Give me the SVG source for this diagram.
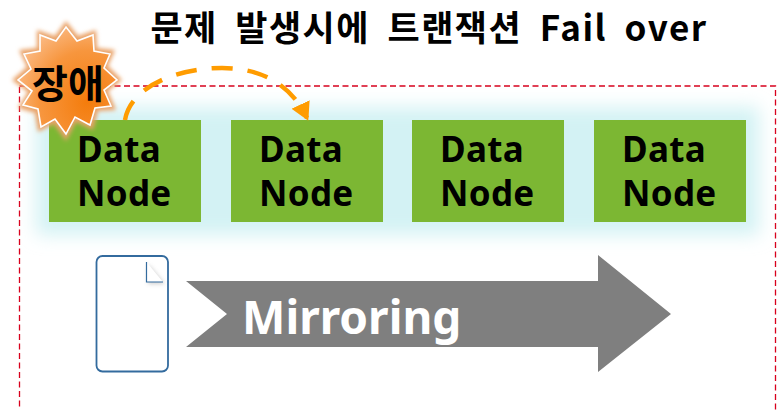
<svg xmlns="http://www.w3.org/2000/svg" width="783" height="410" viewBox="0 0 783 410">
<defs>
<style>
.n{fill:#7cb733}
.g{fill:#c4edf0}
.t{font-family:"Noto Sans","Noto Sans CJK KR",sans-serif;font-size:35px;letter-spacing:0.3px;font-weight:700;fill:#000}
.k{font-family:"Noto Sans CJK KR","Noto Sans",sans-serif;font-weight:700;fill:#000}
</style>
<filter id="b" x="-30%" y="-40%" width="160%" height="180%"><feGaussianBlur stdDeviation="9"/></filter>
<filter id="s" x="-30%" y="-30%" width="160%" height="160%"><feGaussianBlur stdDeviation="2"/></filter>
<filter id="d" x="-50%" y="-50%" width="200%" height="200%"><feGaussianBlur stdDeviation="2"/></filter>
<radialGradient id="o" cx="0.7" cy="0.7" r="0.8"><stop offset="0" stop-color="#f47c0c"/><stop offset="0.6" stop-color="#f7963e"/><stop offset="1" stop-color="#fbbd8a"/></radialGradient>
<marker id="a" markerUnits="userSpaceOnUse" markerWidth="22" markerHeight="22" refX="15" refY="10" orient="auto"><path d="M0 0L18 10L0 20Z" fill="#ff9c00"/></marker>
</defs>
<rect width="783" height="410" fill="#fff"/>
<text id="title" x="429" y="41" text-anchor="middle" class="k" font-size="35" word-spacing="8" letter-spacing="1.500">문제 발생시에 트랜잭션 Fail over</text>
<rect id="frame" x="19.500" y="86" width="756" height="340" fill="none" stroke="#d8001c" stroke-width="1.300" stroke-dasharray="6 3.500"/>
<g id="glow" filter="url(#b)"><rect class="g" x="36" y="107" width="723" height="128" opacity="0.75"/></g>
<g id="node1"><rect class="n" x="49" y="120" width="152" height="102"/><text class="t" x="77" y="162">Data</text><text class="t" x="77" y="206">Node</text></g>
<g id="node2"><rect class="n" x="231" y="120" width="152" height="102"/><text class="t" x="259" y="162">Data</text><text class="t" x="259" y="206">Node</text></g>
<g id="node3"><rect class="n" x="412" y="120" width="152" height="102"/><text class="t" x="440" y="162">Data</text><text class="t" x="440" y="206">Node</text></g>
<g id="node4"><rect class="n" x="594" y="120" width="152" height="102"/><text class="t" x="622" y="162">Data</text><text class="t" x="622" y="206">Node</text></g>
<g id="burst">
<polygon points="66,21 78,36 96,30 97,48 115,50 108,66 122,80 108,91 116,110 98,111 93,130 76,122 66,141 54,124 38,132 35,113 18,108 28,92 12,80 27,67 19,50 37,48 37,30 55,36" fill="#e9a268" filter="url(#s)"/>
<polygon points="66,27 77,41 93,35 94,51 110,54 104,68 117,80 104,90 111,106 95,108 90,125 75,117 66,134 55,119 41,127 38,109 23,105 32,91 18,80 31,69 24,54 40,51 40,35 56,41" fill="url(#o)" stroke="#fff" stroke-width="1.600"/>
<text class="k" x="68" y="98" text-anchor="middle" font-size="39">장애</text>
</g>
<g id="connectors"><path d="M125 120C130 88 175 68 222 68C258 68 290 82 307 118" fill="none" stroke="#ff9c00" stroke-width="4.500" stroke-dasharray="21 15" marker-end="url(#a)"/></g>
<g id="doc">
<rect x="96.500" y="256" width="71.500" height="115.500" rx="6" fill="#fff" stroke="#336b9e" stroke-width="1.800"/>
<path d="M148 264V284H165Z" fill="#888" opacity="0.4" filter="url(#d)"/>
<path d="M146.500 262V282H163" fill="#fff" stroke="#336b9e" stroke-width="1.200"/>
</g>
<g id="mirroring">
<polygon points="186,281 598,281 598,255 671,314 598,372 598,347 186,347 227,314" fill="#7f7f7f"/>
<text x="242" y="334" font-family="'Noto Sans',sans-serif" font-size="46" font-weight="700" fill="#fff">Mirroring</text>
</g>
</svg>
